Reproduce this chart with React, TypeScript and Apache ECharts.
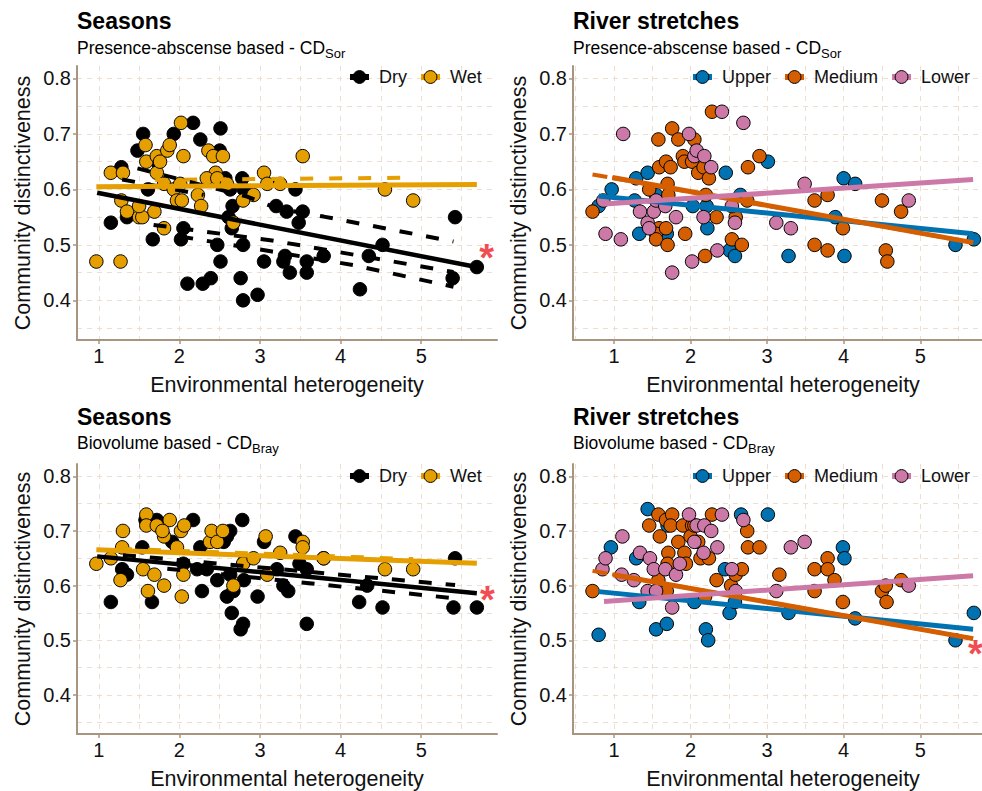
import React, { useEffect, useRef } from "react";
import * as echarts from "echarts";

const FONT = '"Liberation Sans", Arial, Helvetica, sans-serif';

// ---------- axis ticks / ranges ----------
const xLabelValues = [1, 2, 3, 4, 5];
const xGridSeasons = [1, 1.5, 2, 2.5, 3, 3.5, 4, 4.5, 5, 5.5];
const xGridStretches = [0.5, 1, 1.5, 2, 2.5, 3, 3.5, 4, 4.5, 5, 5.5];
const yLabelValues = [0.4, 0.5, 0.6, 0.7, 0.8];
const yGridValues = [0.35, 0.4, 0.45, 0.5, 0.55, 0.6, 0.65, 0.7, 0.75, 0.8];
const xRangeSeasons = [0.73, 5.94];
const xRangeStretches = [0.465, 5.95];
const yRange = [0.3285, 0.8225];

// ---------- texts ----------
const titles = ["Seasons", "River stretches", "Seasons", "River stretches"];
const subtitles = ["Presence-abscense based - CD", "Presence-abscense based - CD", "Biovolume based - CD", "Biovolume based - CD"];
const subscripts = ["Sor", "Sor", "Bray", "Bray"];
const xName = "Environmental heterogeneity";
const yName = "Community distinctiveness";
const seasonNames = ["Dry", "Wet"];
const stretchNames = ["Upper", "Medium", "Lower"];

// ---------- Panel 1: Seasons, presence-absence ----------
const paDry = [[1.15,0.54],[1.28,0.64],[1.35,0.55],[1.48,0.67],[1.55,0.70],[1.72,0.65],[1.67,0.51],[1.93,0.70],[2.17,0.72],[2.26,0.69],[2.51,0.71],[2.50,0.67],[2.57,0.62],[2.63,0.60],[2.66,0.57],[2.65,0.53],[2.78,0.62],[2.79,0.50],[2.76,0.44],[2.79,0.40],[2.51,0.47],[2.47,0.50],[2.10,0.43],[2.29,0.43],[2.39,0.44],[2.97,0.41],[3.05,0.47],[3.20,0.57],[3.33,0.56],[3.44,0.60],[3.31,0.48],[3.29,0.47],[3.37,0.45],[3.53,0.56],[3.48,0.54],[3.58,0.47],[3.58,0.45],[3.79,0.48],[4.35,0.48],[4.52,0.50],[4.24,0.42],[5.42,0.55],[5.39,0.44],[5.69,0.46],[2.02,0.51],[2.05,0.53],[2.61,0.55],[1.61,0.60],[2.80,0.60]];
const paWet = [[0.97,0.47],[1.27,0.47],[1.15,0.63],[1.30,0.63],[1.28,0.58],[1.35,0.56],[1.50,0.55],[1.54,0.55],[1.50,0.57],[1.59,0.65],[1.58,0.68],[1.69,0.56],[1.72,0.63],[1.72,0.66],[1.76,0.65],[1.81,0.53],[1.85,0.67],[1.88,0.68],[1.81,0.61],[1.93,0.60],[1.97,0.58],[2.03,0.58],[2.05,0.66],[2.02,0.72],[2.23,0.59],[2.27,0.57],[2.36,0.67],[2.42,0.66],[2.45,0.63],[2.54,0.66],[2.34,0.62],[2.47,0.62],[2.67,0.54],[2.92,0.59],[2.79,0.58],[3.05,0.63],[3.09,0.61],[3.25,0.61],[3.53,0.66],[4.55,0.60],[4.90,0.58],[2.59,0.61],[2.01,0.61]];
const paDryFit = [[0.98,0.594],[5.67,0.4605]];
const paWetFit = [[0.97,0.605],[5.69,0.609]];
const paWetBand = [[1.7,0.617],[4.88,0.621]];
const paDryBandUpperA = [[1.48,0.638],[2.84,0.587],[3.21,0.566],[3.79,0.551],[5.40,0.506]];
const paDryBandUpperB = [[1.29,0.618],[2.3,0.59]];
const paDryBandLowerA = [[1.68,0.536],[3.15,0.508],[5.40,0.451]];
const paDryBandLowerB = [[2.01,0.515],[3.15,0.488],[4.16,0.4635],[5.40,0.4245]];

// ---------- Panel 2: River stretches, presence-absence ----------
const paUpper = [[0.80,0.57],[0.97,0.60],[1.29,0.62],[1.44,0.63],[1.33,0.52],[1.55,0.59],[1.69,0.52],[2.03,0.57],[2.21,0.57],[2.22,0.53],[2.46,0.63],[2.51,0.49],[2.58,0.48],[2.65,0.59],[3.01,0.65],[3.28,0.48],[4.00,0.62],[4.15,0.61],[4.01,0.48],[3.89,0.55],[5.46,0.50],[5.70,0.51],[1.27,0.58]];
const paMedium = [[0.72,0.56],[1.58,0.69],[1.76,0.71],[1.84,0.69],[2.05,0.69],[1.90,0.66],[1.92,0.65],[2.02,0.65],[1.59,0.64],[1.68,0.65],[1.74,0.64],[2.10,0.63],[2.17,0.64],[2.24,0.62],[2.28,0.74],[1.46,0.60],[1.70,0.61],[1.71,0.59],[1.59,0.53],[1.55,0.52],[1.55,0.51],[1.68,0.53],[1.70,0.50],[1.93,0.52],[2.19,0.48],[2.34,0.55],[2.59,0.55],[2.54,0.51],[2.67,0.50],[2.75,0.64],[2.90,0.66],[2.74,0.58],[3.62,0.58],[3.62,0.50],[3.79,0.59],[3.79,0.49],[3.99,0.53],[4.50,0.58],[4.75,0.56],[4.55,0.49],[4.57,0.47],[2.20,0.59]];
const paLower = [[1.12,0.70],[0.89,0.52],[1.09,0.51],[0.86,0.58],[1.34,0.56],[1.44,0.54],[1.46,0.53],[1.52,0.56],[1.55,0.58],[1.67,0.57],[1.81,0.55],[1.76,0.45],[1.98,0.70],[2.05,0.66],[2.08,0.67],[2.18,0.66],[2.27,0.64],[2.02,0.47],[2.17,0.55],[2.35,0.49],[2.41,0.74],[2.69,0.72],[2.58,0.54],[2.54,0.57],[3.12,0.54],[3.31,0.53],[3.49,0.61],[4.85,0.58]];
const paUpperFit = [[0.80,0.588],[5.69,0.520]];
const paMediumFit = [[0.98,0.6216],[5.69,0.504]];
const paMediumBand = [[0.72,0.627],[5.69,0.504]];
const paLowerFit = [[0.87,0.5736],[5.69,0.618]];

// ---------- Panel 3: Seasons, biovolume ----------
const bvDry = [[1.15,0.57],[1.29,0.63],[1.35,0.62],[1.54,0.67],[1.58,0.72],[1.66,0.57],[1.72,0.72],[1.91,0.68],[2.17,0.72],[2.26,0.67],[2.28,0.59],[2.34,0.63],[2.47,0.61],[2.55,0.68],[2.63,0.70],[2.59,0.69],[2.63,0.62],[2.59,0.58],[2.67,0.59],[2.65,0.55],[2.79,0.53],[2.76,0.52],[2.78,0.72],[2.80,0.61],[2.81,0.645],[2.97,0.58],[3.05,0.68],[3.21,0.63],[3.29,0.60],[3.35,0.59],[3.44,0.69],[3.49,0.64],[3.58,0.63],[3.58,0.53],[3.79,0.65],[4.23,0.57],[4.33,0.60],[4.52,0.56],[5.42,0.65],[5.40,0.56],[5.69,0.56],[2.22,0.63],[2.05,0.64]];
const bvWet = [[0.97,0.64],[1.15,0.65],[1.30,0.70],[1.29,0.67],[1.27,0.61],[1.59,0.73],[1.59,0.71],[1.55,0.63],[1.61,0.59],[1.69,0.62],[1.72,0.71],[1.81,0.69],[1.81,0.60],[1.88,0.72],[1.97,0.67],[2.02,0.70],[2.06,0.71],[2.05,0.62],[2.03,0.58],[1.79,0.70],[2.38,0.68],[2.40,0.70],[2.47,0.68],[2.54,0.70],[2.67,0.60],[2.79,0.64],[2.92,0.65],[3.07,0.69],[3.09,0.62],[3.25,0.66],[3.53,0.68],[3.53,0.67],[3.79,0.65],[4.55,0.63],[4.90,0.63]];
const bvDryFit = [[0.98,0.6535],[5.69,0.586]];
const bvWetFit = [[0.97,0.6655],[5.69,0.6407]];
const bvWetBand = [[1.25,0.6675],[4.9,0.6485]];
const bvDryBandUpper = [[1.3,0.656],[5.42,0.601]];
const bvDryBandLower = [[1.85,0.631],[5.40,0.577]];

// ---------- Panel 4: River stretches, biovolume ----------
const bvUpper = [[0.80,0.51],[0.96,0.67],[1.29,0.65],[1.44,0.74],[1.33,0.57],[1.55,0.52],[1.69,0.53],[1.70,0.71],[2.05,0.57],[2.20,0.52],[2.23,0.50],[2.45,0.63],[2.51,0.55],[2.58,0.57],[2.66,0.73],[3.01,0.73],[3.28,0.55],[3.99,0.67],[4.01,0.65],[4.15,0.54],[5.46,0.50],[5.70,0.55]];
const bvMedium = [[0.72,0.59],[1.46,0.71],[1.58,0.73],[1.68,0.72],[1.76,0.73],[1.74,0.71],[1.60,0.69],[1.71,0.66],[1.84,0.68],[1.90,0.71],[2.02,0.71],[2.00,0.69],[2.10,0.68],[1.92,0.66],[1.94,0.64],[1.70,0.64],[1.58,0.61],[1.69,0.59],[2.13,0.65],[2.24,0.65],[2.28,0.73],[2.05,0.71],[2.19,0.58],[2.34,0.61],[2.53,0.60],[2.59,0.62],[2.67,0.63],[2.74,0.70],[2.75,0.67],[2.90,0.67],[3.16,0.62],[3.62,0.63],[3.62,0.59],[3.79,0.65],[3.79,0.63],[3.88,0.61],[3.99,0.57],[4.50,0.59],[4.56,0.57],[4.75,0.61],[4.55,0.60]];
const bvLower = [[0.85,0.63],[0.89,0.65],[1.11,0.69],[1.10,0.62],[1.26,0.61],[1.34,0.66],[1.44,0.59],[1.47,0.65],[1.52,0.63],[1.67,0.63],[1.55,0.59],[1.76,0.56],[1.81,0.62],[1.86,0.64],[1.98,0.73],[2.08,0.71],[2.05,0.68],[2.18,0.71],[2.17,0.66],[2.27,0.70],[2.35,0.67],[2.41,0.73],[2.54,0.63],[2.59,0.59],[2.69,0.72],[3.12,0.59],[3.31,0.67],[3.49,0.68],[4.85,0.60]];
const bvUpperFit = [[0.80,0.589],[5.69,0.520]];
const bvMediumFit = [[0.99,0.620],[5.69,0.503]];
const bvMediumBand = [[0.72,0.627],[5.69,0.503]];
const bvLowerFit = [[0.87,0.571],[5.69,0.618]];

// ---------- significance marks (panel, x, y) ----------
const sigMarks = [[0, 5.81, 0.476], [2, 5.82, 0.5735], [3, 5.72, 0.4753]];

// ---------- styles ----------
const COL: Record<string, string> = { Dry: "#000000", Wet: "#E69F00", Upper: "#0072B2", Medium: "#D55E00", Lower: "#CC79A7" };
const AXIS_COLOR = "#a8957f";
const GRID_COLOR = "#ecdfd2";
const TEXT = "#111111";

const grids = [
  { left: 77, top: 66, width: 420, height: 274 },
  { left: 573, top: 66, width: 420, height: 274 },
  { left: 77, top: 464, width: 420, height: 272 },
  { left: 573, top: 464, width: 420, height: 272 },
];

function buildAxes(i: number) {
  const seasons = i % 2 === 0;
  const xr = seasons ? xRangeSeasons : xRangeStretches;
  const xg = seasons ? xGridSeasons : xGridStretches;
  const gridLine = { show: true, lineStyle: { color: GRID_COLOR, width: 1, type: [5, 5] } };
  const xMain = {
    type: "value", gridIndex: i, position: "bottom", min: xr[0], max: xr[1],
    axisLine: { show: true, onZero: false, lineStyle: { color: AXIS_COLOR, width: 2 } },
    axisTick: { show: false, customValues: xg },
    axisLabel: { show: true, customValues: xLabelValues, margin: 6, fontSize: 20, color: TEXT, fontFamily: FONT, formatter: (v: number) => String(v) },
    splitLine: { ...gridLine, customValues: xg },
    name: xName, nameLocation: "middle", nameGap: 34,
    nameTextStyle: { fontSize: 21.5, color: TEXT, fontFamily: FONT },
  };
  const xTicks = {
    type: "value", gridIndex: i, position: "bottom", min: xr[0], max: xr[1],
    axisLine: { show: false, onZero: false },
    axisTick: { show: true, customValues: xLabelValues, length: 4, lineStyle: { color: AXIS_COLOR, width: 1.5 } },
    axisLabel: { show: false }, splitLine: { show: false },
  };
  const yMain = {
    type: "value", gridIndex: i, position: "left", min: yRange[0], max: yRange[1],
    axisLine: { show: true, onZero: false, lineStyle: { color: AXIS_COLOR, width: 2 } },
    axisTick: { show: false, customValues: yGridValues },
    axisLabel: { show: true, customValues: yLabelValues, margin: 6, fontSize: 20, color: TEXT, fontFamily: FONT, formatter: (v: number) => v.toFixed(1) },
    splitLine: { ...gridLine, customValues: yGridValues },
    name: yName, nameLocation: "middle", nameGap: 43, nameRotate: 90,
    nameTextStyle: { fontSize: 21.5, color: TEXT, fontFamily: FONT },
  };
  const yTicks = {
    type: "value", gridIndex: i, position: "left", min: yRange[0], max: yRange[1],
    axisLine: { show: false, onZero: false },
    axisTick: { show: true, customValues: yLabelValues, length: 4, lineStyle: { color: AXIS_COLOR, width: 1.5 } },
    axisLabel: { show: false }, splitLine: { show: false },
  };
  return { x: [xMain, xTicks], y: [yMain, yTicks] };
}

function scatter(name: string, data: number[][], color: string, i: number) {
  return {
    type: "scatter", name: name + " points " + i, data, xAxisIndex: 2 * i, yAxisIndex: 2 * i,
    symbol: "circle", symbolSize: 13.5, silent: true, z: 2,
    itemStyle: { color, borderColor: "#000", borderWidth: 1, opacity: 1 },
    emphasis: { disabled: true },
  };
}

function line(name: string, data: number[][], color: string, width: number, i: number, dash: any, z: number) {
  return {
    type: "line", name, data, xAxisIndex: 2 * i, yAxisIndex: 2 * i,
    showSymbol: false, symbol: "circle", silent: true, z,
    lineStyle: { color, width, type: dash },
    itemStyle: { color, borderColor: "#000", borderWidth: 1 },
    emphasis: { disabled: true },
  };
}

export default function App() {
  const ref = useRef<HTMLDivElement>(null);
  useEffect(() => {
    if (!ref.current) return;
    const chart = echarts.init(ref.current, null, { renderer: "svg" });
    const xAxes: any[] = [];
    const yAxes: any[] = [];
    for (let i = 0; i < 4; i++) {
      const a = buildAxes(i);
      xAxes.push(...a.x);
      yAxes.push(...a.y);
    }
    const dashBlack = [13, 14];
    const series: any[] = [
      // legend-representative fitted lines first
      line("Dry", paDryFit, COL.Dry, 4.5, 0, "solid", 5),
      line("Wet", paWetFit, COL.Wet, 5, 0, "solid", 5),
      line("Upper", paUpperFit, COL.Upper, 5, 1, "solid", 5),
      line("Medium", paMediumFit, COL.Medium, 5, 1, "solid", 6),
      line("Lower", paLowerFit, COL.Lower, 5, 1, "solid", 7),
      line("Dry", bvDryFit, COL.Dry, 4.5, 2, "solid", 5),
      line("Wet", bvWetFit, COL.Wet, 5, 2, "solid", 5),
      line("Upper", bvUpperFit, COL.Upper, 5, 3, "solid", 5),
      line("Medium", bvMediumFit, COL.Medium, 5, 3, "solid", 6),
      line("Lower", bvLowerFit, COL.Lower, 5, 3, "solid", 7),
      // dashed lines
      line("Wet band 0", paWetBand, COL.Wet, 4, 0, [13, 16], 4),
      line("Dry band 0a", paDryBandUpperA, COL.Dry, 4, 0, dashBlack, 4),
      line("Dry band 0b", paDryBandUpperB, COL.Dry, 4, 0, dashBlack, 4),
      line("Dry band 0c", paDryBandLowerA, COL.Dry, 4, 0, dashBlack, 4),
      line("Dry band 0d", paDryBandLowerB, COL.Dry, 4, 0, dashBlack, 4),
      line("Medium band 1", paMediumBand, COL.Medium, 4, 1, [15, 5], 4),
      line("Wet band 2", bvWetBand, COL.Wet, 4, 2, [13, 16], 4),
      line("Dry band 2a", bvDryBandUpper, COL.Dry, 4, 2, dashBlack, 4),
      line("Dry band 2b", bvDryBandLower, COL.Dry, 4, 2, dashBlack, 4),
      line("Medium band 3", bvMediumBand, COL.Medium, 4, 3, [15, 5], 4),
      // points
      scatter("Dry", paDry, COL.Dry, 0),
      scatter("Wet", paWet, COL.Wet, 0),
      scatter("Upper", paUpper, COL.Upper, 1),
      scatter("Medium", paMedium, COL.Medium, 1),
      scatter("Lower", paLower, COL.Lower, 1),
      scatter("Dry", bvDry, COL.Dry, 2),
      scatter("Wet", bvWet, COL.Wet, 2),
      scatter("Upper", bvUpper, COL.Upper, 3),
      scatter("Medium", bvMedium, COL.Medium, 3),
      scatter("Lower", bvLower, COL.Lower, 3),
    ];
    sigMarks.forEach((m, k) => {
      series.push({
        type: "scatter", name: "sig " + k, data: [[m[1], m[2]]],
        xAxisIndex: 2 * m[0], yAxisIndex: 2 * m[0], symbolSize: 2, silent: true, z: 10,
        itemStyle: { color: "rgba(0,0,0,0)", borderWidth: 0 },
        label: { show: true, position: "inside", formatter: "*", fontSize: 38, fontWeight: "bold", color: "#ee1c25", fontFamily: FONT },
        emphasis: { disabled: true },
      });
    });

    const legendBase = {
      orient: "horizontal", itemWidth: 19, itemHeight: 16, itemGap: 11, padding: 0, selectedMode: false,
      textStyle: { fontSize: 18, fontFamily: FONT, color: TEXT, padding: [0, 0, 0, 5] },
      lineStyle: { width: 6 }, itemStyle: { borderColor: "#000", borderWidth: 1 },
    };
    const legends = [
      { ...legendBase, data: seasonNames, left: 347, top: 68 },
      { ...legendBase, data: stretchNames, left: 690, top: 68 },
      { ...legendBase, data: seasonNames, left: 347, top: 467 },
      { ...legendBase, data: stretchNames, left: 690, top: 467 },
    ];

    const graphic: any[] = [];
    grids.forEach((g, i) => {
      const titleY = i < 2 ? 21 : 417;
      const subY = i < 2 ? 48.2 : 443.2;
      graphic.push({
        type: "text", x: g.left, y: titleY, silent: true,
        style: { text: titles[i], fontSize: 23, fontWeight: "bold", fontFamily: FONT, fill: "#000",
          align: "left", verticalAlign: "middle", textAlign: "left", textVerticalAlign: "middle" },
      });
      graphic.push({
        type: "text", x: g.left, y: subY, silent: true,
        style: {
          text: "{a|" + subtitles[i] + "}{s|" + subscripts[i] + "}",
          fill: "#000", align: "left", verticalAlign: "middle", textAlign: "left", textVerticalAlign: "middle",
          rich: {
            a: { fontSize: 17.5, fontFamily: FONT, fill: "#000", lineHeight: 20 },
            s: { fontSize: 13, fontFamily: FONT, fill: "#000", lineHeight: 13, padding: [10, 0, 0, 0] },
          },
        },
      });
    });

    chart.setOption({
      animation: false,
      backgroundColor: "#ffffff",
      textStyle: { fontFamily: FONT },
      grid: grids.map((g) => ({ ...g, containLabel: false })),
      xAxis: xAxes,
      yAxis: yAxes,
      legend: legends,
      series,
      graphic,
    });
    return () => chart.dispose();
  }, []);
  return (
    <div style={{ position: "fixed", left: 0, top: 0, width: 982, height: 791, overflow: "hidden", background: "#fff" }}>
      <div ref={ref} style={{ width: 1000, height: 791 }} />
    </div>
  );
}
